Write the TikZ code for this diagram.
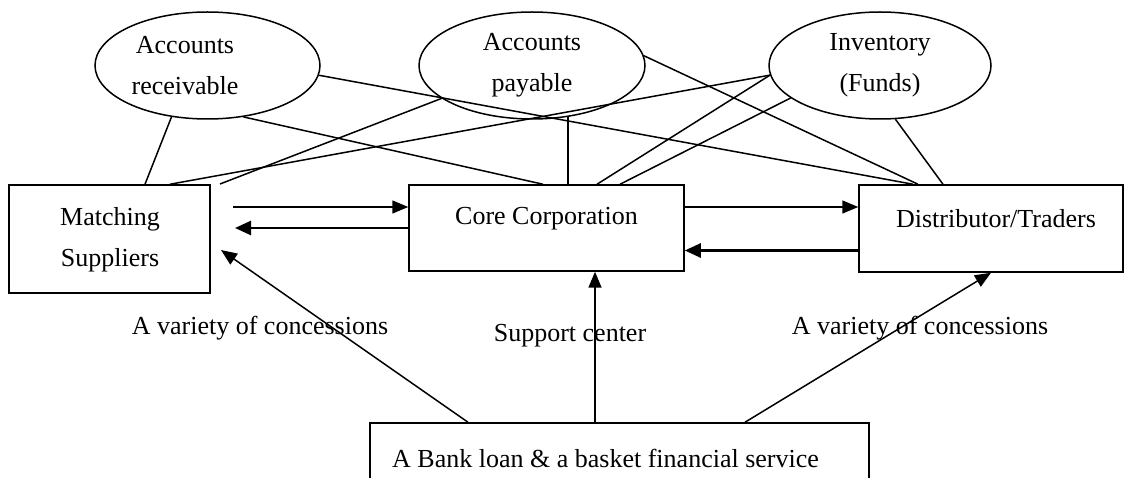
\documentclass[tikz,border=0pt]{standalone}
\usepackage{fontspec}
\setmainfont{Liberation Serif}
\usetikzlibrary{arrows.meta,shapes.geometric,calc}
\tikzset{
  every node/.style={font=\fontsize{26}{41}\selectfont},
  ell/.style={draw, ellipse, line width=1.5pt, inner sep=0pt},
  boxnode/.style={draw, rectangle, line width=1.5pt, inner sep=0pt},
  txt/.style={align=center, inner sep=0pt},
  conn/.style={line width=1.5pt},
  arr/.style={line width=1.5pt, -{Triangle[length=16pt,width=13pt]}},
  tarr/.style={line width=2.6pt, -{Triangle[length=16pt,width=14pt]}}
}
\begin{document}
\begin{tikzpicture}[x=1pt,y=-1pt]
\useasboundingbox (0,0) rectangle (1125,478);
\clip (0,0) rectangle (1125,478);
% ellipses
\node[ell, minimum width=225pt, minimum height=107pt] (AR) at (207.5,65.5) {};
\node[txt] (ARt) at (185,66) {Accounts\\receivable};
\node[ell, txt, draw, minimum width=226pt, minimum height=107pt] (AP) at (532,65.5) {Accounts\\payable};
\node[ell, txt, draw, minimum width=222pt, minimum height=107pt] (INV) at (880,65.5) {Inventory\\(Funds)};
% boxes
\node[boxnode, minimum width=201pt, minimum height=108pt] (MS) at (109.5,239) {};
\node[txt] (MSt) at (110,240) {Matching\\Suppliers};
\node[boxnode, minimum width=275pt, minimum height=86pt] (CC) at (546.5,228) {};
\node[txt] (CCt) at (546.5,219) {Core Corporation};
\node[boxnode, minimum width=264pt, minimum height=87pt] (DT) at (991,228.5) {};
\node[txt] (DTt) at (996,219) {Distributor/Traders};
\node[boxnode, minimum width=499pt, minimum height=68pt] (BANK) at (619.5,457) {};
\node[txt, anchor=west] (BANKt) at (392,458) {A Bank loan \& a basket financial service};
% labels
\node[txt] (L1) at (260,328) {A variety of concessions};
\node[txt] (L2) at (570,336) {Support center};
\node[txt] (L3) at (920,328) {A variety of concessions};
% free ends near Matching Suppliers
\coordinate (msfree) at (220,184);
\coordinate (m1) at (233,207);
\coordinate (m2) at (235,228);
\coordinate (m3) at (221,250);
% plain connectors
\draw[conn] (AR.-125) -- ([xshift=35.5pt]MS.north);
\draw[conn] ([xshift=60.5pt]MS.north) -- (INV.185.5);
\draw[conn] (msfree) -- (AP.200.4);
\draw[conn] (AR.-55) -- ([xshift=-3.5pt]CC.north);
\draw[conn] (AR.-5.3) -- ([xshift=-78pt]DT.north);
\draw[conn] (AP.5.4) -- ([xshift=-73pt]DT.north);
\draw[conn] (AP.-55) -- (AP.-55 |- CC.north);
\draw[conn] ([xshift=50.5pt]CC.north) -- (INV.185.5);
\draw[conn] ([xshift=73.5pt]CC.north) -- (INV.200.5);
\draw[conn] (INV.-74.6) -- ([xshift=-48pt]DT.north);
% horizontal arrows
\draw[arr] (m1) -- (m1 -| CC.west);
\draw[tarr] (m2 -| CC.west) -- (m2);
\draw[arr] ([yshift=21pt]CC.east) -- ([yshift=21pt]CC.east -| DT.west);
\draw[tarr] ([yshift=-22pt]DT.west) -- ([yshift=-22pt]DT.west -| CC.east);
% bank arrows
\draw[arr] ([xshift=-151.5pt]BANK.north) -- (m3);
\draw[arr] ([xshift=-24.5pt]BANK.north) coordinate (b2) -- (b2 |- CC.south);
\draw[arr] ([xshift=125.5pt]BANK.north) -- (DT.south);
\end{tikzpicture}
\end{document}
